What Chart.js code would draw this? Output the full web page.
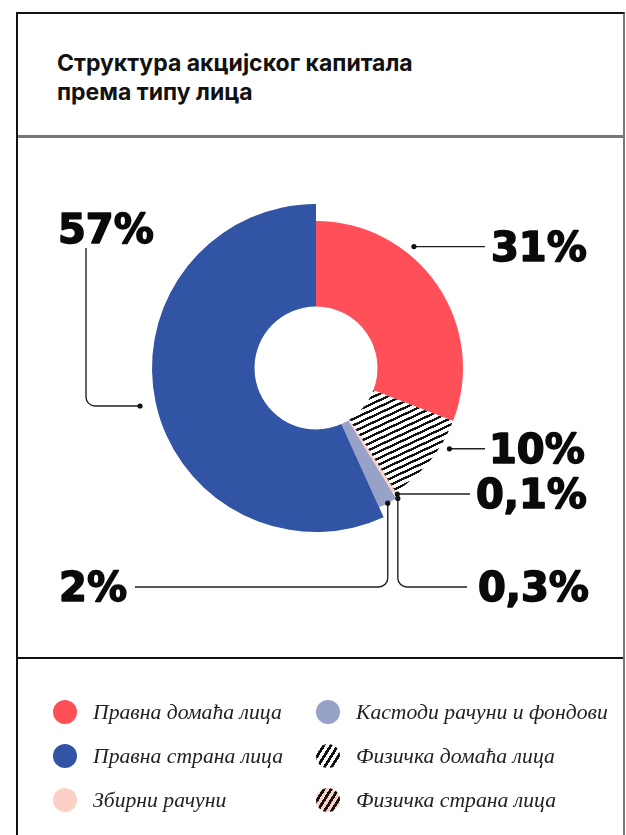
<!DOCTYPE html>
<html>
<head>
<meta charset="utf-8">
<script src="https://cdn.jsdelivr.net/npm/chart.js@4.4.0/dist/chart.umd.min.js"></script>
<style>
  body { margin: 0; width: 626px; height: 835px; background: #fff; position: relative; overflow: hidden; }
  .frame { position: absolute; left: 16px; top: 12px; width: 609px; height: 840px; box-sizing: border-box;
           border-top: 2px solid #111; border-left: 2px solid #111; border-right: 2px solid #777; }
  .rule { position: absolute; left: 18px; width: 605px; }
  h1 { position: absolute; left: 57px; top: 49px; margin: 0; font: 700 23px/29px Inter, Roboto, sans-serif; color: #111; }
  #donut { position: absolute; left: 0; top: 0; }
  .item { position: absolute; height: 24px; display: flex; align-items: center; }
  .item canvas { width: 24px; height: 24px; }
  .item span { position: absolute; white-space: nowrap; font: italic 21.7px "Liberation Serif", serif; color: #222; }
</style>
</head>
<body>
<div class="frame"></div>
<div class="rule" style="top:135px;height:3px;background:#777"></div>
<div class="rule" style="top:657px;height:2px;background:#111"></div>
<h1>Структура акцијског капитала<br>према типу лица</h1>
<canvas id="donut" width="626" height="835"></canvas>
<div id="legend"></div>

<script>
// slices in drawing order, clockwise from 12 o'clock
const names  = ['Правна домаћа лица', 'Физичка домаћа лица', 'Физичка страна лица',
                'Збирни рачуни', 'Кастоди рачуни и фондови', 'Правна страна лица'];
const shares = [31, 10, 0.1, 0.3, 2, 57];
const valueLabels = ['31%', '10%', '0,1%', '0,3%', '2%', '57%'];
// legend reads down the first column, then the second
const legendOrder = [0, 5, 3, 4, 1, 2];

const RED = '#ff505a', BLUE = '#3155a4', LAVENDER = '#98a1c7', PINK = '#fcd0c4';

// diagonal stripes as a canvas pattern; angle in degrees, period/width in px
function stripes(ctx, ink, paper, angle, period, width) {
  const k = 10;
  const tile = document.createElement('canvas');
  tile.width = 10; tile.height = period * k;
  const t = tile.getContext('2d');
  t.fillStyle = paper; t.fillRect(0, 0, tile.width, tile.height);
  t.fillStyle = ink;   t.fillRect(0, 0, tile.width, width * k);
  const p = ctx.createPattern(tile, 'repeat');
  p.setTransform(new DOMMatrix().rotate(angle).scale(1 / k));
  return p;
}

const canvas = document.getElementById('donut');
const ctx = canvas.getContext('2d');

const fills = [RED, stripes(ctx, '#111', '#fff', -25, 5.8, 2.3), stripes(ctx, '#111', PINK, -25, 5.8, 2.3),
               PINK, LAVENDER, BLUE];
const outerRadii = [147, 147, 147, 147, 153, 164];

// connectors: dot on the slice, then a polyline (with rounded elbow) to the value text
const callouts = [
  { slice: 0, t: 0.35, r: 156, pts: [[485, null]],            tx: 491, ty: 261, align: 'left' },
  { slice: 1, t: 0.28, r: 156, pts: [[485, null]],            tx: 489, ty: 463, align: 'left' },
  { slice: 2, t: 0.5,  r: 150, pts: [[470, null]],            tx: 476, ty: 508, align: 'left' },
  { slice: 3, t: 0.5,  r: 154, pts: [[null, 587], [467, 587]], tx: 478, ty: 601, align: 'left' },
  { slice: 4, t: 0.5,  r: 153, pts: [[null, 587], [135, 587]], tx: 127, ty: 601, align: 'right' },
  { slice: 5, t: 0.5,  r: 180, pts: [[86, null], [86, 248]],   tx: 58,  ty: 243, align: 'left' },
];

const ringRadii = {
  id: 'ringRadii',
  afterDatasetsUpdate(chart) {
    chart.getDatasetMeta(0).data.forEach((arc, i) => { arc.outerRadius = outerRadii[i]; });
  }
};

const calloutPlugin = {
  id: 'callouts',
  afterDraw(chart) {
    const c = chart.ctx;
    const arcs = chart.getDatasetMeta(0).data;
    c.save();
    callouts.forEach(co => {
      const arc = arcs[co.slice];
      const a = arc.startAngle + co.t * (arc.endAngle - arc.startAngle);
      const d = [arc.x + co.r * Math.cos(a), arc.y + co.r * Math.sin(a)];
      let prev = d;
      const path = [d];
      co.pts.forEach(p => {
        const q = [p[0] === null ? prev[0] : p[0], p[1] === null ? prev[1] : p[1]];
        path.push(q); prev = q;
      });
      c.strokeStyle = '#222'; c.lineWidth = 1.4;
      c.beginPath();
      c.moveTo(path[0][0], path[0][1]);
      for (let i = 1; i < path.length - 1; i++) c.arcTo(path[i][0], path[i][1], path[i + 1][0], path[i + 1][1], 9);
      c.lineTo(path[path.length - 1][0], path[path.length - 1][1]);
      c.stroke();
      c.fillStyle = '#111';
      c.beginPath(); c.arc(d[0], d[1], 2.6, 0, Math.PI * 2); c.fill();

      // heavy value text: bold face plus a thin outline of the same ink
      c.font = 'bold 40px "DejaVu Sans"';
      c.textAlign = co.align; c.textBaseline = 'alphabetic';
      c.fillStyle = '#0a0a0a'; c.strokeStyle = '#0a0a0a'; c.lineWidth = 1.6; c.lineJoin = 'round';
      c.fillText(valueLabels[co.slice], co.tx, co.ty);
      c.strokeText(valueLabels[co.slice], co.tx, co.ty);
    });
    c.restore();
  }
};

new Chart(canvas, {
  type: 'doughnut',
  data: {
    labels: names,
    datasets: [{ data: shares, backgroundColor: fills, borderWidth: 0 }]
  },
  options: {
    responsive: false,
    animation: false,
    radius: 164,
    cutout: 61.5,
    layout: { padding: { left: 6, right: 0, top: 204, bottom: 303 } },
    plugins: { legend: { display: false }, tooltip: { enabled: false } }
  },
  plugins: [ringRadii, calloutPlugin]
});

// legend: two columns of three
const legend = document.getElementById('legend');
const swatchFill = [RED, null, null, PINK, LAVENDER, BLUE];
legendOrder.forEach((idx, n) => {
  const col = Math.floor(n / 3), row = n % 3;
  const item = document.createElement('div');
  item.className = 'item';
  item.style.left = (col ? 316 : 53) + 'px';
  item.style.top = (700 + row * 44) + 'px';
  const sw = document.createElement('canvas');
  sw.width = 24; sw.height = 24;
  const s = sw.getContext('2d');
  s.beginPath(); s.arc(12, 12, 12, 0, Math.PI * 2);
  if (swatchFill[idx]) s.fillStyle = swatchFill[idx];
  else s.fillStyle = stripes(s, '#111', idx === 1 ? '#fff' : PINK, -58, 6, 2.8);
  s.fill();
  const label = document.createElement('span');
  label.style.left = '40px';
  label.textContent = names[idx];
  item.appendChild(sw); item.appendChild(label);
  legend.appendChild(item);
});
</script>
</body>
</html>
